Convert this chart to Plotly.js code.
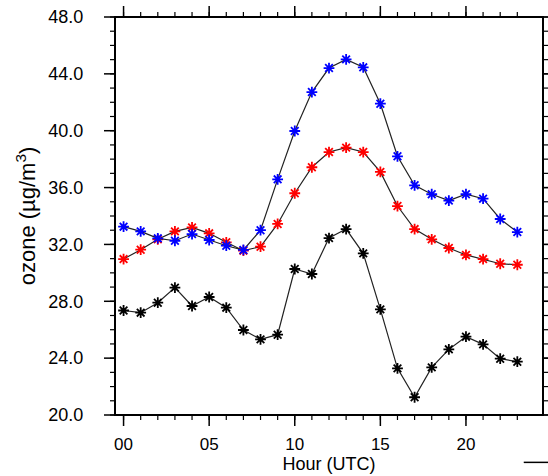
<!DOCTYPE html>
<html>
<head>
<meta charset="utf-8">
<script src="https://cdn.plot.ly/plotly-3.0.1.min.js"></script>
<style>
  html, body { margin: 0; padding: 0; background: #fff; }
  #chart { width: 548px; height: 476px; }
</style>
</head>
<body>
<div id="chart"></div>
<script>
// Hourly mean ozone concentration (µg/m³), three runs
const hours = [0,1,2,3,4,5,6,7,8,9,10,11,12,13,14,15,16,17,18,19,20,21,22,23];

const ozoneBlue = [33.25,32.92,32.43,32.26,32.73,32.31,31.91,31.61,33.0,36.58,39.98,42.72,
                   44.41,45.02,44.46,41.9,38.2,36.16,35.53,35.08,35.53,35.22,33.79,32.87];
const ozoneRed  = [30.97,31.63,32.36,32.92,33.2,32.78,32.15,31.56,31.84,33.44,35.6,37.43,
                   38.5,38.81,38.5,37.1,34.7,33.08,32.36,31.75,31.26,30.97,30.64,30.57];
const ozoneBlack = [27.35,27.2,27.9,28.96,27.67,28.3,27.55,25.98,25.32,25.65,30.27,29.92,
                    32.45,33.08,31.37,27.43,23.28,21.25,23.35,24.62,25.51,24.97,23.96,23.75];

const xTickVals = [0,5,10,15,20];
const xTickText = ['00','05','10','15','20'];
const yTickVals = [20,24,28,32,36,40,44,48];
const yTickText = ['20.0','24.0','28.0','32.0','36.0','40.0','44.0','48.0'];
const yMinorVals = [];
for (let v = 20; v <= 48; v += 1) yMinorVals.push(v);

const X_RANGE = [-0.5, 24.5];
const Y_RANGE = [20, 48];

// figure geometry
const W = 548, H = 476;
const M = { l: 115, r: 5, t: 17, b: 61 };
const PLOT_W = W - M.l - M.r, PLOT_H = H - M.t - M.b;
const MAJOR_LEN = 11, MINOR_LEN = 5;

function series(y, color) {
  return {
    x: hours, y: y, type: 'scatter', mode: 'lines+markers',
    line: { color: '#222', width: 1.2 },
    marker: { symbol: 'asterisk-open', size: 9, color: color,
              line: { color: color, width: 1.8 } },
    showlegend: false, hoverinfo: 'x+y'
  };
}

const font = 'Liberation Sans, Arial, Helvetica, sans-serif';

// Frame tick marks on all four sides, in paper units: the position is the
// value's fraction of the axis range, the length is converted from pixels.
function frac(v, range) { return (v - range[0]) / (range[1] - range[0]); }

function xTicks(vals, len, width) {
  const d = len / PLOT_H;
  const out = [];
  vals.forEach(function (v) {
    const f = frac(v, X_RANGE);
    out.push({ type: 'line', layer: 'above', xref: 'paper', yref: 'paper',
               x0: f, x1: f, y0: 0, y1: -d, line: { color: '#000', width: width } });
    out.push({ type: 'line', layer: 'above', xref: 'paper', yref: 'paper',
               x0: f, x1: f, y0: 1, y1: 1 + d, line: { color: '#000', width: width } });
  });
  return out;
}
function yTicks(vals, len, width) {
  const d = len / PLOT_W;
  const out = [];
  vals.forEach(function (v) {
    const f = frac(v, Y_RANGE);
    out.push({ type: 'line', layer: 'above', xref: 'paper', yref: 'paper',
               x0: 0, x1: -d, y0: f, y1: f, line: { color: '#000', width: width } });
    out.push({ type: 'line', layer: 'above', xref: 'paper', yref: 'paper',
               x0: 1, x1: 1 + d, y0: f, y1: f, line: { color: '#000', width: width } });
  });
  return out;
}

const tickShapes = [].concat(
  xTicks(hours, MINOR_LEN, 1.2), xTicks(xTickVals, MAJOR_LEN, 1.5),
  yTicks(yMinorVals, MINOR_LEN, 1.2), yTicks(yTickVals, MAJOR_LEN, 1.5)
);

// black plot frame
const frame = { type: 'rect', layer: 'above', xref: 'paper', yref: 'paper',
                x0: 0, x1: 1, y0: 0, y1: 1, line: { color: '#000', width: 2 } };

// short legend stroke peeking in at the lower right
const legendStroke = { type: 'line', xref: 'paper', yref: 'paper', x0: 0.955, x1: 1.02,
                       y0: -0.119, y1: -0.119, line: { color: '#000', width: 1.5 } };

// axis ticks keep their length (labels sit clear of the frame ticks) but are transparent
const layout = {
  width: W, height: H,
  margin: M,
  paper_bgcolor: '#fff', plot_bgcolor: '#fff',
  font: { family: font, color: '#000' },
  xaxis: {
    range: X_RANGE,
    tickmode: 'array', tickvals: xTickVals, ticktext: xTickText,
    ticks: 'outside', ticklen: MAJOR_LEN, tickwidth: 2, tickcolor: 'rgba(0,0,0,0)',
    showline: false,
    showgrid: true, gridcolor: 'rgba(0,0,0,0)',
    zeroline: true, zerolinecolor: 'rgba(0,0,0,0)',
    tickfont: { size: 17, family: font },
    ticklabelstandoff: 3,
    title: { text: 'Hour (UTC)', font: { size: 18, family: font }, standoff: 3 }
  },
  yaxis: {
    range: Y_RANGE,
    tickmode: 'array', tickvals: yTickVals, ticktext: yTickText,
    ticks: 'outside', ticklen: MAJOR_LEN, tickwidth: 2, tickcolor: 'rgba(0,0,0,0)',
    showline: false,
    showgrid: true, gridcolor: 'rgba(0,0,0,0)',
    zeroline: true, zerolinecolor: 'rgba(0,0,0,0)',
    tickfont: { size: 18, family: font },
    ticklabelstandoff: 16,
    title: { text: 'ozone (\u00b5g/m<sup>3</sup>)', font: { size: 22, family: font }, standoff: 6 }
  },
  shapes: tickShapes.concat([frame, legendStroke])
};

Plotly.newPlot('chart',
  [series(ozoneBlack, '#000'), series(ozoneRed, '#ff0000'), series(ozoneBlue, '#0000ff')],
  layout, { displayModeBar: false, staticPlot: true });
</script>
</body>
</html>
